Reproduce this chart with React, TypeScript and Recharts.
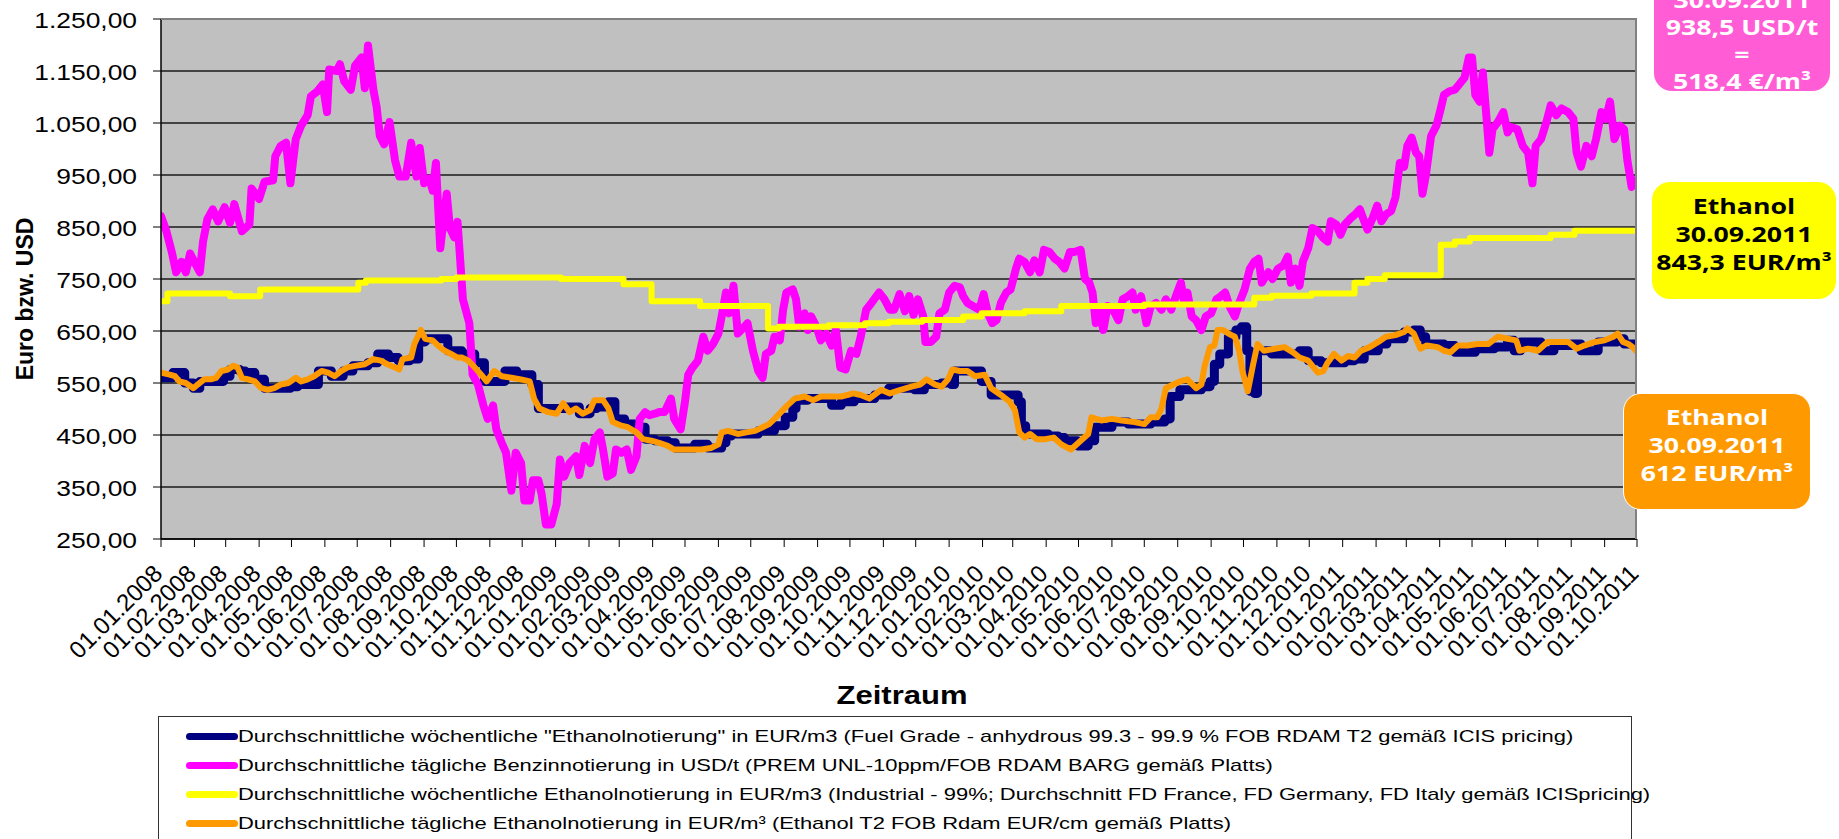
import { LineChart, Line, XAxis, YAxis, CartesianGrid } from 'recharts';

// month ticks on the date axis
const MONTH_TICKS = [
  '01.01.2008', '01.02.2008', '01.03.2008', '01.04.2008', '01.05.2008', '01.06.2008',
  '01.07.2008', '01.08.2008', '01.09.2008', '01.10.2008', '01.11.2008', '01.12.2008',
  '01.01.2009', '01.02.2009', '01.03.2009', '01.04.2009', '01.05.2009', '01.06.2009',
  '01.07.2009', '01.08.2009', '01.09.2009', '01.10.2009', '01.11.2009', '01.12.2009',
  '01.01.2010', '01.02.2010', '01.03.2010', '01.04.2010', '01.05.2010', '01.06.2010',
  '01.07.2010', '01.08.2010', '01.09.2010', '01.10.2010', '01.11.2010', '01.12.2010',
  '01.01.2011', '01.02.2011', '01.03.2011', '01.04.2011', '01.05.2011', '01.06.2011',
  '01.07.2011', '01.08.2011', '01.09.2011', '01.10.2011',
];
const VALUE_TICKS = [250, 350, 450, 550, 650, 750, 850, 950, 1050, 1150, 1250];

// weekly "Ethanolnotierung" fuel grade, EUR/m3 (ICIS)
const FUEL_GRADE_WEEKLY: [string, number][] = [
  ['2008-01-01', 560], ['2008-01-12', 570], ['2008-01-23', 550], ['2008-01-31', 540], ['2008-02-06', 553],
  ['2008-02-28', 563], ['2008-03-05', 576], ['2008-03-14', 573], ['2008-03-19', 570], ['2008-03-28', 557],
  ['2008-04-06', 540], ['2008-04-30', 543], ['2008-05-07', 547], ['2008-05-26', 573], ['2008-06-07', 563],
  ['2008-06-18', 573], ['2008-06-27', 583], ['2008-07-11', 589], ['2008-07-20', 606], ['2008-07-30', 599],
  ['2008-08-08', 593], ['2008-08-19', 596], ['2008-08-27', 629], ['2008-09-02', 635], ['2008-09-23', 612],
  ['2008-10-06', 606], ['2008-10-18', 589], ['2008-10-27', 553], ['2008-11-15', 573], ['2008-11-26', 566],
  ['2008-12-10', 547], ['2008-12-16', 501], ['2009-01-11', 504], ['2009-01-23', 491], ['2009-02-02', 501],
  ['2009-02-08', 504], ['2009-02-19', 514], ['2009-02-25', 481], ['2009-03-06', 471], ['2009-03-15', 465],
  ['2009-03-25', 442], ['2009-04-03', 439], ['2009-04-15', 435], ['2009-04-22', 425], ['2009-05-10', 432],
  ['2009-05-22', 425], ['2009-06-04', 435], ['2009-06-08', 448], ['2009-06-13', 452], ['2009-07-08', 458],
  ['2009-07-23', 468], ['2009-08-02', 484], ['2009-08-09', 501], ['2009-08-12', 517], ['2009-08-23', 520],
  ['2009-09-14', 507], ['2009-09-23', 514], ['2009-10-05', 520], ['2009-10-24', 527], ['2009-11-06', 540],
  ['2009-11-30', 537], ['2009-12-09', 547], ['2009-12-25', 550], ['2010-01-03', 547], ['2010-01-06', 573],
  ['2010-01-31', 553], ['2010-02-09', 527], ['2010-03-06', 514], ['2010-03-09', 468], ['2010-03-13', 452],
  ['2010-04-03', 448], ['2010-04-12', 445], ['2010-04-18', 439], ['2010-04-30', 429], ['2010-05-10', 439],
  ['2010-05-16', 465], ['2010-06-01', 475], ['2010-06-16', 471], ['2010-07-07', 475], ['2010-07-20', 481],
  ['2010-07-25', 524], ['2010-08-03', 537], ['2010-08-23', 543], ['2010-08-31', 553], ['2010-09-04', 586],
  ['2010-09-09', 606], ['2010-09-17', 639], ['2010-09-24', 652], ['2010-09-29', 658], ['2010-10-04', 612],
  ['2010-10-07', 534], ['2010-10-11', 530], ['2010-10-14', 612], ['2010-10-27', 606], ['2010-11-22', 612],
  ['2010-11-30', 593], ['2010-12-12', 589], ['2011-01-03', 593], ['2011-01-12', 596], ['2011-01-21', 612],
  ['2011-02-03', 625], ['2011-02-11', 635], ['2011-02-27', 648], ['2011-03-08', 652], ['2011-03-14', 639],
  ['2011-03-19', 625], ['2011-04-05', 622], ['2011-04-15', 609], ['2011-05-04', 616], ['2011-05-22', 619],
  ['2011-06-03', 632], ['2011-06-09', 612], ['2011-06-15', 629], ['2011-07-04', 612], ['2011-07-16', 622],
  ['2011-08-01', 625], ['2011-08-10', 612], ['2011-08-26', 629], ['2011-09-13', 635], ['2011-09-19', 625],
  ['2011-09-30', 622],
];

// daily gasoline quote, USD/t (Platts)
const GASOLINE_DAILY: [string, number][] = [
  ['2008-01-01', 871], ['2008-01-06', 842], ['2008-01-11', 802], ['2008-01-15', 763], ['2008-01-20', 783],
  ['2008-01-24', 763], ['2008-01-28', 799], ['2008-02-01', 783], ['2008-02-06', 763], ['2008-02-09', 822],
  ['2008-02-13', 865], ['2008-02-18', 884], ['2008-02-23', 861], ['2008-02-29', 888], ['2008-03-05', 858],
  ['2008-03-09', 894], ['2008-03-16', 842], ['2008-03-23', 855], ['2008-03-25', 924], ['2008-04-01', 904],
  ['2008-04-06', 937], ['2008-04-14', 940], ['2008-04-16', 986], ['2008-04-21', 1006], ['2008-04-26', 1012],
  ['2008-04-30', 934], ['2008-05-05', 1019], ['2008-05-10', 1045], ['2008-05-16', 1065], ['2008-05-19', 1101],
  ['2008-05-25', 1111], ['2008-05-30', 1124], ['2008-06-03', 1071], ['2008-06-05', 1153], ['2008-06-12', 1150],
  ['2008-06-15', 1163], ['2008-06-19', 1130], ['2008-06-25', 1114], ['2008-06-29', 1160], ['2008-07-05', 1176],
  ['2008-07-08', 1117], ['2008-07-11', 1199], ['2008-07-16', 1114], ['2008-07-19', 1081], ['2008-07-22', 1025],
  ['2008-07-26', 1009], ['2008-07-31', 1052], ['2008-08-05', 979], ['2008-08-09', 947], ['2008-08-15', 947],
  ['2008-08-20', 1012], ['2008-08-25', 947], ['2008-08-28', 1002], ['2008-09-01', 934], ['2008-09-06', 943],
  ['2008-09-09', 920], ['2008-09-12', 973], ['2008-09-16', 809], ['2008-09-22', 914], ['2008-09-25', 848],
  ['2008-09-29', 830], ['2008-10-02', 860], ['2008-10-04', 802], ['2008-10-07', 711], ['2008-10-13', 665],
  ['2008-10-16', 566], ['2008-10-21', 547], ['2008-10-26', 507], ['2008-10-30', 481], ['2008-11-04', 507],
  ['2008-11-07', 461], ['2008-11-12', 435], ['2008-11-16', 416], ['2008-11-21', 343], ['2008-11-25', 416],
  ['2008-11-30', 396], ['2008-12-03', 324], ['2008-12-08', 324], ['2008-12-11', 363], ['2008-12-16', 363],
  ['2008-12-19', 337], ['2008-12-23', 278], ['2008-12-28', 278], ['2009-01-02', 317], ['2009-01-05', 403],
  ['2009-01-09', 370], ['2009-01-14', 396], ['2009-01-20', 409], ['2009-01-23', 373], ['2009-01-28', 429],
  ['2009-02-02', 396], ['2009-02-06', 442], ['2009-02-11', 455], ['2009-02-14', 422], ['2009-02-18', 370],
  ['2009-02-23', 376], ['2009-02-26', 422], ['2009-03-03', 416], ['2009-03-08', 422], ['2009-03-12', 383],
  ['2009-03-17', 409], ['2009-03-20', 481], ['2009-03-25', 494], ['2009-03-29', 488], ['2009-04-03', 491],
  ['2009-04-07', 494], ['2009-04-12', 494], ['2009-04-18', 520], ['2009-04-21', 481], ['2009-04-27', 461],
  ['2009-05-01', 514], ['2009-05-04', 566], ['2009-05-08', 580], ['2009-05-13', 593], ['2009-05-18', 639],
  ['2009-05-22', 612], ['2009-05-27', 625], ['2009-06-01', 645], ['2009-06-04', 678], ['2009-06-08', 724],
  ['2009-06-11', 684], ['2009-06-15', 737], ['2009-06-19', 645], ['2009-06-25', 658], ['2009-06-28', 665],
  ['2009-07-03', 612], ['2009-07-08', 573], ['2009-07-12', 560], ['2009-07-15', 606], ['2009-07-20', 612],
  ['2009-07-23', 639], ['2009-07-28', 632], ['2009-07-31', 691], ['2009-08-03', 724], ['2009-08-09', 730],
  ['2009-08-12', 711], ['2009-08-15', 658], ['2009-08-20', 684], ['2009-08-23', 652], ['2009-08-26', 678],
  ['2009-08-31', 658], ['2009-09-04', 632], ['2009-09-09', 645], ['2009-09-14', 622], ['2009-09-18', 652],
  ['2009-09-22', 580], ['2009-09-27', 576], ['2009-10-02', 612], ['2009-10-07', 606], ['2009-10-11', 639],
  ['2009-10-16', 691], ['2009-10-21', 704], ['2009-10-28', 724], ['2009-11-02', 711], ['2009-11-07', 691],
  ['2009-11-11', 691], ['2009-11-16', 721], ['2009-11-21', 688], ['2009-11-25', 717], ['2009-11-29', 681],
  ['2009-12-03', 711], ['2009-12-08', 678], ['2009-12-10', 629], ['2009-12-15', 629], ['2009-12-20', 639],
  ['2009-12-23', 684], ['2009-12-28', 691], ['2010-01-01', 724], ['2010-01-06', 737], ['2010-01-11', 734],
  ['2010-01-14', 717], ['2010-01-18', 704], ['2010-01-23', 698], ['2010-01-29', 691], ['2010-02-02', 721],
  ['2010-02-06', 684], ['2010-02-10', 665], ['2010-02-14', 671], ['2010-02-18', 704], ['2010-02-23', 724],
  ['2010-02-27', 730], ['2010-03-04', 770], ['2010-03-07', 789], ['2010-03-12', 783], ['2010-03-17', 763],
  ['2010-03-21', 786], ['2010-03-26', 763], ['2010-03-30', 806], ['2010-04-04', 802], ['2010-04-09', 789],
  ['2010-04-13', 783], ['2010-04-18', 770], ['2010-04-23', 802], ['2010-04-27', 802], ['2010-05-03', 806],
  ['2010-05-07', 750], ['2010-05-11', 743], ['2010-05-14', 724], ['2010-05-17', 665], ['2010-05-20', 691],
  ['2010-05-24', 652], ['2010-05-28', 698], ['2010-06-02', 691], ['2010-06-07', 671], ['2010-06-11', 711],
  ['2010-06-16', 717], ['2010-06-20', 724], ['2010-06-23', 691], ['2010-06-28', 717], ['2010-07-03', 665],
  ['2010-07-07', 698], ['2010-07-12', 704], ['2010-07-17', 691], ['2010-07-21', 711], ['2010-07-26', 691],
  ['2010-07-31', 721], ['2010-08-04', 743], ['2010-08-07', 704], ['2010-08-10', 724], ['2010-08-14', 678],
  ['2010-08-18', 671], ['2010-08-23', 652], ['2010-08-27', 678], ['2010-09-01', 684], ['2010-09-06', 711],
  ['2010-09-10', 717], ['2010-09-14', 724], ['2010-09-18', 698], ['2010-09-23', 678], ['2010-09-27', 704],
  ['2010-10-02', 730], ['2010-10-07', 770], ['2010-10-11', 783], ['2010-10-15', 789], ['2010-10-18', 743],
  ['2010-10-24', 763], ['2010-10-28', 750], ['2010-11-02', 770], ['2010-11-07', 776], ['2010-11-11', 793],
  ['2010-11-14', 743], ['2010-11-18', 770], ['2010-11-22', 737], ['2010-11-25', 783], ['2010-11-30', 809],
  ['2010-12-04', 848], ['2010-12-09', 842], ['2010-12-14', 829], ['2010-12-18', 822], ['2010-12-21', 861],
  ['2010-12-26', 855], ['2010-12-30', 835], ['2011-01-03', 855], ['2011-01-09', 868], ['2011-01-13', 875],
  ['2011-01-17', 884], ['2011-01-21', 861], ['2011-01-24', 845], ['2011-01-29', 868], ['2011-02-02', 891],
  ['2011-02-06', 861], ['2011-02-10', 874], ['2011-02-15', 881], ['2011-02-19', 907], ['2011-02-23', 973],
  ['2011-02-27', 966], ['2011-03-02', 1006], ['2011-03-06', 1022], ['2011-03-10', 993], ['2011-03-13', 986],
  ['2011-03-16', 914], ['2011-03-19', 947], ['2011-03-24', 1025], ['2011-03-29', 1045], ['2011-04-02', 1078],
  ['2011-04-05', 1104], ['2011-04-10', 1111], ['2011-04-15', 1114], ['2011-04-19', 1124], ['2011-04-24', 1137],
  ['2011-04-28', 1176], ['2011-05-01', 1176], ['2011-05-04', 1104], ['2011-05-08', 1091], ['2011-05-11', 1147],
  ['2011-05-14', 1071], ['2011-05-17', 993], ['2011-05-20', 1038], ['2011-05-25', 1052], ['2011-05-30', 1071],
  ['2011-06-03', 1032], ['2011-06-06', 1042], ['2011-06-12', 1038], ['2011-06-17', 1006], ['2011-06-22', 993],
  ['2011-06-26', 934], ['2011-06-29', 1006], ['2011-07-04', 1019], ['2011-07-09', 1052], ['2011-07-13', 1084],
  ['2011-07-18', 1065], ['2011-07-23', 1078], ['2011-07-29', 1071], ['2011-08-03', 1058], ['2011-08-06', 993],
  ['2011-08-10', 966], ['2011-08-15', 1006], ['2011-08-20', 986], ['2011-08-24', 1019], ['2011-08-29', 1071],
  ['2011-09-02', 1058], ['2011-09-06', 1091], ['2011-09-10', 1019], ['2011-09-15', 1045], ['2011-09-19', 1038],
  ['2011-09-22', 979], ['2011-09-26', 927], ['2011-09-30', 940],
];

// weekly industrial ethanol, EUR/m3 (step changes)
const INDUSTRIAL_WEEKLY: [string, number][] = [
  ['2008-01-01', 707], ['2008-01-07', 722], ['2008-03-05', 717], ['2008-04-02', 730], ['2008-07-02', 743],
  ['2008-07-09', 747], ['2008-09-17', 750], ['2008-10-01', 753], ['2009-01-06', 750], ['2009-03-05', 740],
  ['2009-03-31', 707], ['2009-05-15', 698], ['2009-07-17', 655], ['2009-07-27', 658], ['2009-09-11', 661],
  ['2009-10-15', 665], ['2009-11-06', 668], ['2009-12-07', 671], ['2010-01-14', 678], ['2010-01-31', 684],
  ['2010-03-12', 688], ['2010-04-15', 698], ['2010-07-01', 701], ['2010-10-11', 714], ['2010-10-27', 718],
  ['2010-12-03', 722], ['2011-01-12', 743], ['2011-01-24', 750], ['2011-02-09', 757], ['2011-04-02', 816],
  ['2011-04-15', 822], ['2011-04-29', 829], ['2011-07-13', 835], ['2011-08-04', 843], ['2011-09-30', 843],
];

// daily ethanol T2 FOB Rdam, EUR/m3 (Platts)
const ETHANOL_DAILY: [string, number][] = [
  ['2008-01-01', 570], ['2008-01-09', 566], ['2008-01-14', 563], ['2008-01-18', 553], ['2008-01-24', 550],
  ['2008-01-31', 540], ['2008-02-04', 547], ['2008-02-10', 557], ['2008-02-16', 557], ['2008-02-21', 560],
  ['2008-02-26', 573], ['2008-03-03', 576], ['2008-03-08', 583], ['2008-03-12', 580], ['2008-03-16', 560],
  ['2008-03-22', 557], ['2008-03-28', 553], ['2008-04-03', 540], ['2008-04-09', 537], ['2008-04-15', 540],
  ['2008-04-21', 547], ['2008-04-28', 550], ['2008-05-05', 560], ['2008-05-10', 553], ['2008-05-16', 557],
  ['2008-05-22', 563], ['2008-05-29', 573], ['2008-06-04', 570], ['2008-06-10', 563], ['2008-06-16', 573],
  ['2008-06-22', 580], ['2008-06-29', 583], ['2008-07-08', 586], ['2008-07-16', 596], ['2008-07-23', 593],
  ['2008-07-29', 586], ['2008-08-05', 580], ['2008-08-09', 576], ['2008-08-12', 596], ['2008-08-20', 599],
  ['2008-08-23', 625], ['2008-08-29', 652], ['2008-09-02', 635], ['2008-09-09', 632], ['2008-09-14', 622],
  ['2008-09-20', 612], ['2008-09-26', 606], ['2008-10-02', 599], ['2008-10-06', 599], ['2008-10-12', 593],
  ['2008-10-18', 580], ['2008-10-24', 566], ['2008-10-29', 553], ['2008-11-05', 573], ['2008-11-12', 563],
  ['2008-11-21', 560], ['2008-11-30', 557], ['2008-12-08', 553], ['2008-12-12', 520], ['2008-12-17', 501],
  ['2008-12-25', 494], ['2009-01-02', 491], ['2009-01-08', 511], ['2009-01-14', 494], ['2009-01-20', 501],
  ['2009-01-26', 491], ['2009-02-02', 498], ['2009-02-06', 517], ['2009-02-14', 517], ['2009-02-19', 501],
  ['2009-02-23', 475], ['2009-03-03', 468], ['2009-03-09', 465], ['2009-03-17', 455], ['2009-03-23', 442],
  ['2009-03-31', 439], ['2009-04-07', 435], ['2009-04-15', 429], ['2009-04-21', 422], ['2009-05-04', 422],
  ['2009-05-16', 422], ['2009-05-25', 425], ['2009-06-01', 432], ['2009-06-04', 455], ['2009-06-10', 458],
  ['2009-06-19', 452], ['2009-06-27', 455], ['2009-07-05', 458], ['2009-07-12', 465], ['2009-07-18', 471],
  ['2009-07-23', 481], ['2009-07-29', 494], ['2009-08-04', 507], ['2009-08-11', 520], ['2009-08-20', 524],
  ['2009-08-28', 517], ['2009-09-04', 524], ['2009-09-14', 524], ['2009-09-23', 524], ['2009-10-04', 530],
  ['2009-10-11', 527], ['2009-10-19', 520], ['2009-10-30', 537], ['2009-11-07', 530], ['2009-11-17', 537],
  ['2009-11-27', 543], ['2009-12-05', 547], ['2009-12-11', 557], ['2009-12-19', 547], ['2009-12-25', 543],
  ['2009-12-31', 557], ['2010-01-04', 576], ['2010-01-11', 573], ['2010-01-18', 573], ['2010-01-25', 563],
  ['2010-02-03', 566], ['2010-02-09', 540], ['2010-02-18', 527], ['2010-02-26', 514], ['2010-03-03', 498],
  ['2010-03-07', 455], ['2010-03-12', 445], ['2010-03-17', 452], ['2010-03-23', 442], ['2010-03-31', 442],
  ['2010-04-08', 445], ['2010-04-15', 432], ['2010-04-24', 422], ['2010-05-03', 439], ['2010-05-10', 452],
  ['2010-05-13', 484], ['2010-05-22', 478], ['2010-06-01', 481], ['2010-06-10', 478], ['2010-06-22', 475],
  ['2010-07-01', 471], ['2010-07-07', 484], ['2010-07-13', 484], ['2010-07-17', 501], ['2010-07-21', 540],
  ['2010-07-28', 547], ['2010-08-03', 553], ['2010-08-10', 557], ['2010-08-18', 540], ['2010-08-23', 547],
  ['2010-08-26', 583], ['2010-08-31', 619], ['2010-09-04', 622], ['2010-09-07', 652], ['2010-09-12', 652],
  ['2010-09-17', 645], ['2010-09-23', 639], ['2010-09-27', 612], ['2010-09-30', 573], ['2010-10-05', 534],
  ['2010-10-10', 586], ['2010-10-14', 625], ['2010-10-20', 612], ['2010-10-30', 616], ['2010-11-08', 619],
  ['2010-11-16', 609], ['2010-11-22', 599], ['2010-11-30', 593], ['2010-12-09', 570], ['2010-12-14', 573],
  ['2010-12-18', 589], ['2010-12-24', 606], ['2010-12-31', 593], ['2011-01-06', 602], ['2011-01-12', 599],
  ['2011-01-18', 612], ['2011-01-26', 619], ['2011-02-03', 629], ['2011-02-10', 639], ['2011-02-19', 642],
  ['2011-02-27', 648], ['2011-03-02', 655], ['2011-03-08', 645], ['2011-03-14', 616], ['2011-03-20', 622],
  ['2011-03-30', 619], ['2011-04-05', 612], ['2011-04-11', 609], ['2011-04-18', 622], ['2011-04-27', 622],
  ['2011-05-06', 625], ['2011-05-16', 625], ['2011-05-25', 639], ['2011-06-03', 635], ['2011-06-11', 632],
  ['2011-06-14', 612], ['2011-06-22', 616], ['2011-07-01', 612], ['2011-07-10', 629], ['2011-07-20', 629],
  ['2011-07-29', 629], ['2011-08-06', 616], ['2011-08-13', 622], ['2011-08-23', 629], ['2011-09-01', 632],
  ['2011-09-09', 639], ['2011-09-13', 645], ['2011-09-18', 629], ['2011-09-23', 625], ['2011-09-27', 619],
  ['2011-09-30', 612],
];

const LEGEND_ITEMS = [
  { color: '#000080', text: 'Durchschnittliche wöchentliche "Ethanolnotierung" in EUR/m3 (Fuel Grade - anhydrous 99.3 - 99.9 % FOB RDAM T2 gemäß ICIS pricing)' },
  { color: '#FF00FF', text: 'Durchschnittliche tägliche Benzinnotierung in USD/t (PREM UNL-10ppm/FOB RDAM BARG gemäß Platts)' },
  { color: '#FFFF00', text: 'Durchschnittliche wöchentliche Ethanolnotierung in EUR/m3 (Industrial - 99%; Durchschnitt FD France, FD Germany, FD Italy gemäß ICISpricing)' },
  { color: '#FF9900', text: 'Durchschnittliche tägliche Ethanolnotierung in EUR/m³ (Ethanol T2 FOB Rdam EUR/cm gemäß Platts)' },
];

const W = 1839;
const H = 839;
const FONT = '"Liberation Sans", Arial, sans-serif';
const BOX_FONT = '"Open Sans", "Noto Sans", sans-serif';

const isoTs = (d: string) => Date.UTC(+d.slice(0, 4), +d.slice(5, 7) - 1, +d.slice(8, 10));
const deTs = (d: string) => {
  const [dd, mm, yyyy] = d.split('.');
  return Date.UTC(+yyyy, +mm - 1, +dd);
};
const toPoints = (rows: [string, number][]) => rows.map(([d, v]) => ({ t: isoTs(d), v }));

const fmtDate = (ts: number) => {
  const d = new Date(ts);
  const p = (n: number) => String(n).padStart(2, '0');
  return `${p(d.getUTCDate())}.${p(d.getUTCMonth() + 1)}.${d.getUTCFullYear()}`;
};
const fmtValue = (v: number) => {
  const [i, f] = v.toFixed(2).split('.');
  return i.replace(/\B(?=(\d{3})+(?!\d))/g, '.') + ',' + f;
};

const xTicks = MONTH_TICKS.map(deTs);

const DateTick = (props: any) => {
  const { x, y, payload } = props;
  const ax = x + 3;
  const ay = y + 26;
  return (
    <text x={ax} y={ay} transform={`rotate(-45 ${ax} ${ay})`} textAnchor="end" fontSize={24} fontFamily={FONT} fill="#000">
      {fmtDate(payload.value)}
    </text>
  );
};

const ValueTick = (props: any) => {
  const { x, y, payload } = props;
  return (
    <text transform={`translate(${x - 14},${y + 9}) scale(1.2,1)`} textAnchor="end" fontSize={22} fontFamily={FONT} fill="#000">
      {fmtValue(payload.value)}
    </text>
  );
};

const boxText = { fontFamily: BOX_FONT, fontWeight: 700, fontSize: 21, textAlign: 'center' as const };
const stretch = { transform: 'scaleX(1.27)', transformOrigin: 'center' };

export default function App() {
  return (
    <div style={{ position: 'absolute', left: 0, top: 0, width: W, height: H, overflow: 'hidden', background: '#fff' }}>
      <LineChart width={W} height={H} margin={{ top: 19, right: 202, left: 91, bottom: 150 }}>
        <CartesianGrid vertical={false} fill="#C0C0C0" stroke="#1a1a1a" strokeWidth={1.5} />
        <XAxis
          dataKey="t"
          type="number"
          scale="linear"
          domain={[xTicks[0], xTicks[xTicks.length - 1]]}
          ticks={xTicks}
          interval={0}
          allowDataOverflow
          height={150}
          tick={<DateTick />}
          tickSize={8}
          axisLine={{ stroke: '#000', strokeWidth: 1.5 }}
          tickLine={{ stroke: '#000' }}
        />
        <YAxis
          type="number"
          domain={[250, 1250]}
          ticks={VALUE_TICKS}
          interval={0}
          width={70}
          tick={<ValueTick />}
          tickSize={8}
          axisLine={{ stroke: '#000', strokeWidth: 1.5 }}
          tickLine={{ stroke: '#000' }}
        />
        <Line data={toPoints(FUEL_GRADE_WEEKLY)} dataKey="v" type="stepAfter" stroke="#000080" strokeWidth={9} strokeLinejoin="round" strokeLinecap="round" dot={false} activeDot={false} isAnimationActive={false} />
        <Line data={toPoints(GASOLINE_DAILY)} dataKey="v" type="linear" stroke="#FF00FF" strokeWidth={8} strokeLinejoin="round" strokeLinecap="round" dot={false} activeDot={false} isAnimationActive={false} />
        <Line data={toPoints(INDUSTRIAL_WEEKLY)} dataKey="v" type="stepAfter" stroke="#FFFF00" strokeWidth={6} strokeLinejoin="round" strokeLinecap="round" dot={false} activeDot={false} isAnimationActive={false} />
        <Line data={toPoints(ETHANOL_DAILY)} dataKey="v" type="linear" stroke="#FF9900" strokeWidth={6} strokeLinejoin="round" strokeLinecap="round" dot={false} activeDot={false} isAnimationActive={false} />
      </LineChart>

      {/* plot frame, top and right */}
      <div style={{ position: 'absolute', left: 161, top: 18, width: 1476, height: 521, borderTop: '2px solid #808080', borderRight: '2px solid #808080', boxSizing: 'border-box', pointerEvents: 'none' }} />

      {/* axis titles */}
      <svg width={W} height={H} style={{ position: 'absolute', left: 0, top: 0, pointerEvents: 'none' }}>
        <text transform="translate(33,299) rotate(-90)" textAnchor="middle" fontSize={23} fontWeight={700} fontFamily={FONT} fill="#000">
          Euro bzw. USD
        </text>
        <text transform="translate(902,704) scale(1.24,1)" textAnchor="middle" fontSize={25} fontWeight={700} fontFamily={FONT} fill="#000">
          Zeitraum
        </text>
      </svg>

      {/* legend */}
      <div style={{ position: 'absolute', left: 158, top: 716, width: 1474, height: 140, border: '1px solid #333', boxSizing: 'border-box', background: '#fff' }}>
        {LEGEND_ITEMS.map((it, i) => (
          <div key={i} style={{ position: 'absolute', left: 27, top: 5 + i * 29, height: 29, display: 'flex', alignItems: 'center' }}>
            <div style={{ width: 52, height: 7, borderRadius: 4, background: it.color }} />
            <div style={{ fontFamily: FONT, fontSize: 17, whiteSpace: 'nowrap', transform: 'scaleX(1.29)', transformOrigin: 'left center', color: '#000' }}>
              {it.text}
            </div>
          </div>
        ))}
      </div>

      {/* value call-outs */}
      <div style={{ position: 'absolute', left: 1654, top: -19, width: 176, height: 110, borderRadius: 18, background: '#FF5CD6', color: '#fff', paddingTop: 6, boxSizing: 'border-box', lineHeight: '27px', ...boxText }}>
        <div style={stretch}>30.09.2011</div>
        <div style={stretch}>938,5 USD/t</div>
        <div style={stretch}>=</div>
        <div style={stretch}>518,4 €/m³</div>
      </div>
      <div style={{ position: 'absolute', left: 1652, top: 182, width: 184, height: 117, borderRadius: 18, background: '#FFFF00', color: '#000', paddingTop: 10, boxSizing: 'border-box', lineHeight: '28px', ...boxText }}>
        <div style={stretch}>Ethanol</div>
        <div style={stretch}>30.09.2011</div>
        <div style={stretch}>843,3 EUR/m³</div>
      </div>
      <div style={{ position: 'absolute', left: 1623, top: 393, width: 188, height: 117, borderRadius: 18, background: '#FF9900', color: '#fff', border: '1px solid #fff', paddingTop: 9, boxSizing: 'border-box', lineHeight: '28px', ...boxText }}>
        <div style={stretch}>Ethanol</div>
        <div style={stretch}>30.09.2011</div>
        <div style={stretch}>612 EUR/m³</div>
      </div>
    </div>
  );
}
